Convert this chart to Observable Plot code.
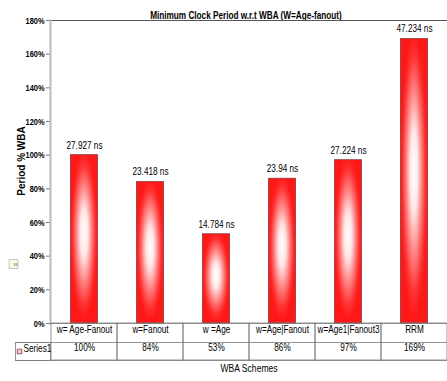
<!DOCTYPE html>
<html>
<head>
<meta charset="utf-8">
<script src="https://cdn.jsdelivr.net/npm/d3@7"></script>
<script src="https://cdn.jsdelivr.net/npm/@observablehq/plot@0.6"></script>
<style>
  html, body { margin: 0; padding: 0; background: #fff; }
</style>
</head>
<body>
<div id="chart"></div>
<script>
// WBA schemes and their minimum clock period, relative to w=Age-Fanout
const schemes = ["w= Age-Fanout", "w=Fanout", "w =Age", "w=Age|Fanout", "w=Age1|Fanout3", "RRM"];
const periodPct = [100, 84, 53, 86, 97, 169];
const periodNs = ["27.927 ns", "23.418 ns", "14.784 ns", "23.94 ns", "27.224 ns", "47.234 ns"];
const yTicks = [0, 20, 40, 60, 80, 100, 120, 140, 160, 180];

const rows = schemes.map((scheme, i) => ({scheme, pct: periodPct[i], ns: periodNs[i]}));

const sans = "'Liberation Sans', Arial, sans-serif";
const grid = "#7a7a7a";
const yTitle = "Period % WBA";

const chart = Plot.plot({
  width: 447,
  height: 381,
  marginLeft: 50,
  marginRight: 0,
  marginTop: 20,
  marginBottom: 58,
  style: {fontFamily: sans, fontSize: "10px", background: "#fff", overflow: "visible", color: "#000"},
  x: {domain: schemes, padding: 0, axis: null},
  y: {domain: [0, 180], axis: null},
  marks: [
    // title
    Plot.text(["Minimum Clock Period w.r.t WBA (W=Age-fanout)"], {
      frameAnchor: "top", dy: -9, fontWeight: "bold", fontSize: 10.5, dx: -3
    }),
    // top border of the plot area
    Plot.ruleY([180], {stroke: "#555", strokeWidth: 1, insetLeft: -3}),
    // y axis
    Plot.axisY({
      ticks: yTicks, tickFormat: d => d + "%", tickSize: 4, tickPadding: 2, label: null,
      fontWeight: "bold", fontSize: 9.5, stroke: "#777"
    }),
    Plot.frame({anchor: "left", stroke: "#bbb", strokeWidth: 2}),
    Plot.text([yTitle], {
      frameAnchor: "left", textAnchor: "middle", rotate: -90, dx: -29, dy: -11,
      fontWeight: "bold", fontSize: 10
    }),
    // small legend key glyph at the left
    Plot.dot([0], {frameAnchor: "left", dx: -37, dy: 92, symbol: "square", r: 5, fill: "#fbfbe6", stroke: "#b5b5a0", strokeWidth: 0.8}),
    Plot.text(["ss"], {frameAnchor: "left", dx: -37, dy: 92, fontSize: 5, fill: "#555"}),
    // bars
    Plot.barY(rows, {
      x: "scheme", y: "pct", insetLeft: 19.5, insetRight: 19.5,
      fill: "url(#barGrad)", stroke: "#8a3a3a", strokeWidth: 0.8
    }),
    // period labels above the bars
    Plot.text(rows, {x: "scheme", y: "pct", text: "ns", dy: -10, fontSize: 10.5}),
    // data table below the axis
    Plot.barY(rows, {x: "scheme", y1: 0, y2: 0, insetBottom: -37, fill: "none", stroke: grid, strokeWidth: 0.8}),
    Plot.ruleY([0], {stroke: grid, strokeWidth: 0.8}),
    Plot.ruleY([0], {dy: 19, insetLeft: -35, stroke: grid, strokeWidth: 0.8}),
    Plot.ruleY([0], {dy: 37, insetLeft: -35, stroke: grid, strokeWidth: 0.8}),
    Plot.frame({insetLeft: -35, insetRight: 397, insetTop: 322, insetBottom: -37, stroke: grid, strokeWidth: 0.8}),
    Plot.text(rows, {x: "scheme", text: "scheme", frameAnchor: "bottom", dy: 9, fontSize: 10.5}),
    Plot.text(rows, {x: "scheme", text: d => d.pct + "%", frameAnchor: "bottom", dy: 27, fontSize: 10.5}),
    Plot.dot([0], {frameAnchor: "bottom-left", dx: -31, dy: 28, symbol: "square", r: 2.6, fill: "#f6c6cc", stroke: "#8a3a3a", strokeWidth: 0.8}),
    Plot.text(["Series1"], {frameAnchor: "bottom-left", dx: -27, dy: 28, textAnchor: "start", fontSize: 10.5}),
    // x axis title
    Plot.text(["WBA Schemes"], {frameAnchor: "bottom", dy: 48, fontSize: 11})
  ]
});

// red-to-white "from centre" fill used by the bars
d3.select(chart).insert("defs", ":first-child").html(`
  <radialGradient id="barGrad" cx="50%" cy="48%" r="50%" fx="50%" fy="46%">
    <stop offset="0%" stop-color="#ffffff"/>
    <stop offset="28%" stop-color="#ffe6e6"/>
    <stop offset="58%" stop-color="#ff8080"/>
    <stop offset="84%" stop-color="#ff3030"/>
    <stop offset="100%" stop-color="#ff1818"/>
  </radialGradient>`);

document.getElementById("chart").appendChild(chart);

// narrow lettering: squeeze every label except the rotated axis title
d3.select(chart).selectAll("text").each(function() {
  if (this.textContent === yTitle) return;
  const len = this.getComputedTextLength();
  if (len > 0) {
    this.setAttribute("textLength", (len * 0.78).toFixed(1));
    this.setAttribute("lengthAdjust", "spacingAndGlyphs");
  }
});
</script>
</body>
</html>
